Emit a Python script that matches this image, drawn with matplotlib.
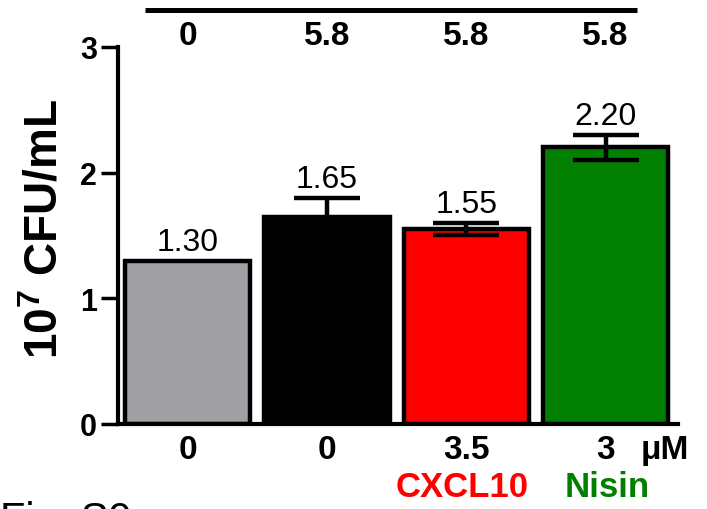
import matplotlib
matplotlib.use('Agg')
import matplotlib.pyplot as plt

plt.rcParams['font.family'] = ['Liberation Sans', 'DejaVu Sans']
plt.rcParams['mathtext.fontset'] = 'custom'
plt.rcParams['mathtext.rm'] = 'Liberation Sans'
plt.rcParams['mathtext.bf'] = 'Liberation Sans:bold'

# data
means = [1.30, 1.65, 1.55, 2.20]
errs = [0.0, 0.15, 0.05, 0.10]
value_labels = ['1.30', '1.65', '1.55', '2.20']
colors = ['#A09FA4', '#000000', '#FF0000', '#007F00']
top_labels = ['0', '5.8', '5.8', '5.8']
bottom_labels = ['0', '0', '3.5', '3']

fig = plt.figure(figsize=(7.07, 5.10), dpi=100)
ax = fig.add_axes([0.1669, 0.1667, 0.792, 0.7393])

x = list(range(len(means)))
ax.bar(x, means, width=0.90, color=colors, edgecolor='black', linewidth=3.2, zorder=2)
# no visible error bar on the control bar
ex = [i for i in x if errs[i] > 0]
ax.errorbar(ex, [means[i] for i in ex], yerr=[errs[i] for i in ex], fmt='none',
            ecolor='black', elinewidth=3.2, capsize=24, capthick=3.2, zorder=3)

for i, (m, e, lab) in enumerate(zip(means, errs, value_labels)):
    ax.text(i, m + e + 0.03, lab, ha='center', va='bottom', fontsize=23)

ax.set_xlim(-0.5, 3.52)
ax.set_ylim(0, 3)
ax.set_yticks([0, 1, 2, 3])
ax.set_xticks([])
for s in ['top', 'right']:
    ax.spines[s].set_visible(False)
ax.spines['left'].set_linewidth(3)
ax.spines['bottom'].set_linewidth(3)
ax.tick_params(axis='y', length=12, width=2.5, pad=3, labelsize=22)
for t in ax.get_yticklabels():
    t.set_fontweight('bold')

ax.set_ylabel(r'$\mathbf{10^7}$ CFU/mL', fontsize=33, fontweight='bold')
ax.yaxis.set_label_coords(-0.09, 0.52)

# line and labels above the bars
ax.plot([-0.306, 3.226], [3.29, 3.29], color='black', linewidth=3.6, clip_on=False,
        solid_capstyle='butt')
for i, lab in enumerate(top_labels):
    ax.text(i, 3.09, lab, ha='center', va='center', fontsize=24, fontweight='bold')

for i, lab in enumerate(bottom_labels):
    ax.text(i, -0.2, lab, ha='center', va='center', fontsize=24, fontweight='bold')
ax.text(3.25, -0.2, 'μM', ha='left', va='center', fontsize=24, fontweight='bold')
ax.text(1.97, -0.5, 'CXCL10', ha='center', va='center', fontsize=25,
        fontweight='bold', color='#FF0000')
ax.text(3.01, -0.5, 'Nisin', ha='center', va='center', fontsize=25,
        fontweight='bold', color='#007F00')

fig.text(0.0, -0.043, 'Fig. S9', ha='left', va='baseline', fontsize=30)

fig.savefig('out.png', dpi=100)
